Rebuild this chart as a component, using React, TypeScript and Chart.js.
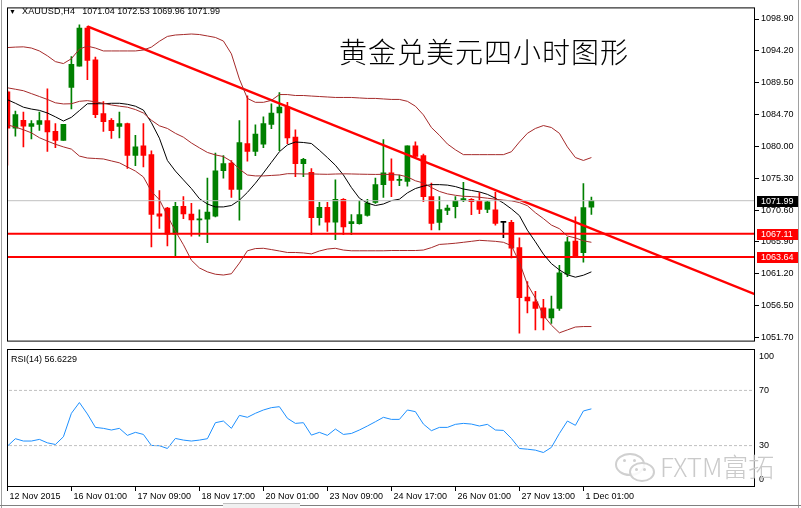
import React, { useEffect, useRef } from "react";
import { Chart, registerables } from "chart.js";

Chart.register(...registerables);

// ---------- text ----------
const symbolName = "XAUUSD,H4";
const symbolQuote = "1071.04 1072.53 1069.96 1071.99";
const chartTitle = "黄金兑美元四小时图形";
const rsiLabel = "RSI(14) 56.6229";
const watermark = "FXTM富拓";

// ---------- candles (H4 bars, index 0..73) ----------
const opens = [1088.1, 1082.73, 1083.88, 1083.0, 1083.3, 1083.84, 1082.26, 1080.92, 1088.76, 1091.91,
  1097.57, 1092.87, 1084.9, 1083.88, 1083.0, 1083.4, 1078.71, 1080.1, 1078.81, 1070.06,
  1070.88, 1067.05, 1071.17, 1070.02, 1069.16, 1069.24, 1069.68, 1076.42, 1077.57, 1073.65,
  1080.44, 1079.3, 1080.35, 1083.3, 1084.98, 1085.84, 1081.4, 1077.48, 1076.19, 1069.49,
  1071.02, 1068.81, 1072.21, 1068.6, 1068.6, 1069.82, 1071.74, 1074.37, 1076.13, 1075.0,
  1074.84, 1080.1, 1078.67, 1072.6, 1068.77, 1070.54, 1071.11, 1072.03, 1072.21, 1071.93,
  1070.68, 1070.64, 1068.77, 1068.77, 1065.04, 1057.72, 1057.0, 1056.14, 1054.61, 1056.04,
  1061.12, 1066.0, 1064.3, 1071.04];
const highs = [1088.3, 1085.27, 1085.13, 1083.84, 1085.13, 1088.57, 1083.4, 1083.3, 1093.35, 1098.04,
  1097.8, 1093.26, 1086.66, 1084.17, 1085.13, 1083.5, 1081.68, 1083.4, 1079.39, 1073.5,
  1071.0, 1071.74, 1072.6, 1071.6, 1070.64, 1075.33, 1079.06, 1078.67, 1077.95, 1083.84,
  1087.52, 1083.22, 1084.41, 1086.32, 1088.0, 1086.56, 1082.5, 1078.28, 1076.76, 1071.74,
  1071.74, 1075.08, 1072.3, 1069.92, 1071.97, 1072.21, 1075.33, 1081.06, 1078.2, 1075.8,
  1080.1, 1080.72, 1078.91, 1074.61, 1072.6, 1071.35, 1072.6, 1074.7, 1072.3, 1073.18,
  1071.9, 1073.26, 1068.87, 1069.1, 1066.5, 1060.0, 1058.58, 1057.39, 1057.87, 1062.41,
  1066.58, 1069.59, 1074.51, 1072.53];
const lows = [1077.24, 1081.54, 1079.96, 1081.15, 1082.4, 1079.3, 1079.86, 1080.92, 1085.6, 1091.91,
  1089.9, 1084.27, 1082.26, 1081.2, 1081.3, 1076.76, 1077.19, 1076.99, 1065.14, 1067.9,
  1065.28, 1063.6, 1069.34, 1066.72, 1066.72, 1065.76, 1069.6, 1075.33, 1072.46, 1069.1,
  1077.85, 1078.67, 1079.86, 1082.64, 1079.39, 1080.44, 1075.56, 1075.56, 1066.95, 1068.38,
  1067.44, 1066.23, 1066.95, 1066.95, 1068.5, 1069.7, 1071.6, 1072.46, 1072.6, 1074.2,
  1074.13, 1078.4, 1071.83, 1067.67, 1067.67, 1069.92, 1069.44, 1071.83, 1069.92, 1070.06,
  1070.2, 1068.38, 1066.5, 1063.5, 1052.37, 1055.38, 1052.84, 1052.84, 1053.8, 1055.72,
  1060.74, 1063.6, 1062.89, 1069.96];
const closes = [1082.73, 1084.74, 1083.02, 1083.4, 1083.84, 1082.16, 1080.92, 1083.3, 1092.2, 1097.57,
  1092.77, 1084.74, 1083.69, 1082.35, 1083.4, 1078.71, 1079.96, 1078.71, 1069.96, 1069.68,
  1067.05, 1071.17, 1070.02, 1069.16, 1069.3, 1070.3, 1076.42, 1077.48, 1073.65, 1080.58,
  1079.3, 1081.87, 1083.4, 1084.98, 1085.84, 1081.3, 1077.48, 1078.1, 1069.49, 1071.02,
  1068.81, 1072.21, 1068.1, 1068.9, 1069.92, 1071.64, 1074.37, 1076.13, 1074.98, 1075.1,
  1080.1, 1078.53, 1072.6, 1068.63, 1070.68, 1070.88, 1071.97, 1072.31, 1071.83, 1070.68,
  1071.83, 1068.63, 1068.77, 1064.94, 1057.62, 1057.15, 1056.04, 1054.61, 1055.96, 1061.31,
  1065.9, 1063.71, 1070.97, 1071.99];

// ---------- indicators ----------
const bbUpper = [1094.67, 1094.74, 1094.78, 1094.6, 1094.17, 1093.45, 1092.59, 1092.3, 1093.02, 1094.45,
  1094.88, 1094.6, 1094.17, 1094.17, 1094.17, 1094.17, 1094.17, 1094.31, 1094.74, 1095.6,
  1096.32, 1096.53, 1096.6, 1096.68, 1096.6, 1096.39, 1096.17, 1095.64, 1093.74, 1090.0,
  1087.14, 1086.56, 1086.56, 1086.85, 1087.71, 1087.71, 1087.57, 1087.57, 1087.49, 1087.42,
  1087.35, 1087.28, 1087.28, 1087.28, 1087.21, 1087.14, 1087.14, 1087.06, 1086.99, 1086.99,
  1086.71, 1085.99, 1084.7, 1082.83, 1081.68, 1080.39, 1079.53, 1078.81, 1078.81, 1078.81,
  1078.81, 1078.81, 1078.81, 1079.24, 1080.68, 1081.97, 1082.69, 1083.12, 1082.83, 1081.97,
  1079.96, 1078.38, 1077.95, 1078.38];
const bbMiddle = [1088.71, 1088.5, 1088.28, 1087.85, 1087.42, 1086.99, 1086.49, 1086.32, 1086.35, 1086.71,
  1086.81, 1086.63, 1086.42, 1086.17, 1085.99, 1085.84, 1085.49, 1084.98, 1083.91, 1083.08,
  1082.69, 1081.97, 1081.4, 1080.54, 1079.82, 1079.14, 1078.77, 1078.53, 1077.81, 1076.66,
  1075.8, 1075.66, 1075.66, 1075.73, 1075.8, 1075.99, 1075.99, 1075.94, 1075.96, 1075.92,
  1075.9, 1075.94, 1075.97, 1075.95, 1075.92, 1075.9, 1075.88, 1075.9, 1075.87, 1075.8,
  1075.51, 1074.94, 1074.61, 1073.94, 1073.36, 1073.0, 1072.79, 1072.64, 1072.6, 1072.5,
  1072.36, 1072.21, 1072.07, 1071.97, 1071.71, 1071.25, 1070.21, 1069.34, 1068.38, 1067.84,
  1066.76, 1066.48, 1066.05, 1065.83];
const bbLower = [1083.22, 1082.9, 1082.5, 1082.04, 1081.32, 1080.82, 1080.35, 1079.96, 1079.63, 1078.6,
  1078.31, 1078.24, 1078.17, 1077.88, 1077.6, 1076.99, 1076.38, 1075.51, 1073.36, 1072.14,
  1069.78, 1067.48, 1065.47, 1063.18, 1062.03, 1061.45, 1061.1, 1060.98, 1061.17, 1062.75,
  1064.57, 1064.9, 1064.94, 1064.75, 1064.54, 1064.32, 1064.32, 1064.25, 1064.11, 1064.54,
  1064.83, 1064.94, 1064.68, 1064.57, 1064.57, 1064.57, 1064.57, 1064.57, 1064.61, 1064.61,
  1064.61, 1064.61, 1064.68, 1065.04, 1065.51, 1065.59, 1065.69, 1065.83, 1065.97, 1066.12,
  1066.05, 1065.97, 1065.83, 1065.33, 1062.89, 1059.59, 1057.58, 1055.0, 1053.56, 1052.42,
  1052.85, 1053.28, 1053.35, 1053.35];
const maLine = [1086.95, 1086.42, 1085.84, 1085.56, 1085.37, 1084.98, 1084.41, 1083.79, 1084.34, 1085.34,
  1086.35, 1086.35, 1086.35, 1086.42, 1086.42, 1086.27, 1085.99, 1085.41, 1083.55, 1081.25,
  1077.95, 1076.38, 1075.08, 1073.79, 1072.29, 1071.5, 1071.07, 1071.07, 1071.28, 1072.07,
  1073.22, 1074.58, 1076.09, 1077.67, 1079.24, 1080.25, 1080.68, 1080.61, 1080.46, 1079.46,
  1078.38, 1077.24, 1075.8, 1073.94, 1072.36, 1071.64, 1071.28, 1071.5, 1072.0, 1072.21,
  1073.15, 1073.79, 1074.15, 1074.37, 1074.37, 1074.3, 1074.08, 1073.72, 1073.51, 1073.29,
  1072.93, 1072.36, 1071.64, 1070.78, 1069.78, 1067.62, 1065.9, 1064.08, 1062.67, 1061.74,
  1061.02, 1060.66, 1060.95, 1061.45];
const rsiValues = [29.6, 35.0, 33.3, 33.3, 34.5, 32.0, 30.8, 36.4, 53.4, 61.2,
  52.9, 43.2, 42.5, 41.3, 42.5, 37.4, 39.6, 38.1, 30.1, 29.9,
  27.9, 35.2, 34.0, 33.3, 34.0, 35.0, 46.6, 47.8, 42.5, 51.9,
  50.5, 53.4, 55.8, 57.5, 58.2, 49.8, 46.1, 46.6, 37.6, 39.6,
  37.4, 42.0, 38.1, 38.8, 41.3, 44.2, 47.3, 50.5, 49.0, 49.0,
  55.8, 54.6, 45.6, 40.8, 43.2, 43.2, 45.4, 46.1, 45.6, 44.2,
  45.4, 41.3, 41.0, 35.2, 27.9, 27.4, 26.7, 25.0, 28.7, 38.8,
  47.8, 44.7, 55.1, 56.62];

// ---------- axes / levels ----------
const xTickIndex = [0, 8, 16, 24, 32, 40, 48, 56, 64, 72];
const xTickLabels = ["12 Nov 2015", "16 Nov 01:00", "17 Nov 09:00", "18 Nov 17:00", "20 Nov 01:00",
  "23 Nov 09:00", "24 Nov 17:00", "26 Nov 01:00", "27 Nov 13:00", "1 Dec 01:00"];
const priceTicks = [1098.9, 1094.2, 1089.5, 1084.7, 1080.0, 1075.3, 1070.6, 1065.9, 1061.2, 1056.5, 1051.7];
const supportLevels = [1067.11, 1063.64];
const lastPrice = 1071.99;
const trendIndex = [10, 93.5];
const trendPrice = [1097.8, 1058.1];
const rsiLevels = [70, 30];
const rsiTicks = [100, 70, 30, 0];

const X_MIN = -0.05;
const X_MAX = 93.45;
const Y_MIN = 1051.12;
const Y_MAX = 1100.62;

const AXIS_FONT = { family: "'Liberation Sans', Arial, sans-serif", size: 9 };
const BAND = "#a52a2a";

const framePlugin = {
  id: "frame",
  afterDraw(chart: any) {
    const { ctx, chartArea } = chart;
    ctx.save();
    ctx.strokeStyle = "#000";
    ctx.lineWidth = 1;
    ctx.strokeRect(chartArea.left + 0.5, chartArea.top + 0.5, chartArea.right - chartArea.left - 1, chartArea.bottom - chartArea.top - 1);
    ctx.restore();
  },
};

const priceTagPlugin = {
  id: "priceTags",
  afterDraw(chart: any) {
    const { ctx, chartArea, scales } = chart;
    const tags: [number, string][] = [[lastPrice, "#000"], ...supportLevels.map((v) => [v, "#ff0000"] as [number, string])];
    ctx.save();
    ctx.font = "9px 'Liberation Sans', Arial, sans-serif";
    ctx.textAlign = "left";
    ctx.textBaseline = "middle";
    tags.forEach(([v, bg]) => {
      const py = Math.round(scales.y.getPixelForValue(v));
      ctx.fillStyle = bg;
      ctx.fillRect(chartArea.right + 2, py - 5, 42, 11);
      ctx.fillStyle = "#fff";
      ctx.fillText(v.toFixed(2), chartArea.right + 6, py + 0.5);
    });
    ctx.restore();
  },
};

const rsiAxisPlugin = {
  id: "rsiAxis",
  afterDraw(chart: any) {
    const { ctx, chartArea, scales } = chart;
    ctx.save();
    ctx.font = "9px 'Liberation Sans', Arial, sans-serif";
    ctx.fillStyle = "#000";
    ctx.textAlign = "left";
    ctx.textBaseline = "middle";
    rsiTicks.forEach((v) => {
      let py = scales.y.getPixelForValue(v);
      if (py < chartArea.top + 7) py = chartArea.top + 8;
      if (py > chartArea.bottom - 7) py = chartArea.bottom - 7;
      ctx.fillText(String(v), chartArea.right + 4, py);
    });
    ctx.restore();
  },
};

function lineDs(data: { x: number; y: number }[], color: string, width = 1, dash: number[] = []) {
  return {
    type: "line" as const,
    data,
    borderColor: color,
    borderWidth: width,
    borderDash: dash,
    pointRadius: 0,
    tension: 0,
    fill: false,
    clip: 0,
    order: 0,
  };
}

export default function App() {
  const mainRef = useRef<HTMLCanvasElement>(null);
  const rsiRef = useRef<HTMLCanvasElement>(null);

  useEffect(() => {
    const color = (i: number) =>
      closes[i] > opens[i] ? "#008000" : closes[i] < opens[i] ? "#ff0000" : "#000000";
    const colors = closes.map((_, i) => color(i));
    const series = (arr: number[]) => arr.map((y, i) => ({ x: i, y }));
    const hline = (v: number) => [{ x: X_MIN - 1, y: v }, { x: X_MAX + 1, y: v }];

    const main = new Chart(mainRef.current as HTMLCanvasElement, {
      type: "bar",
      data: {
        datasets: [
          lineDs(hline(lastPrice), "#c0c0c0", 1) as any,
          lineDs(series(bbUpper), BAND) as any,
          lineDs(series(bbMiddle), BAND) as any,
          lineDs(series(bbLower), BAND) as any,
          lineDs(series(maLine), "#000") as any,
          ...supportLevels.map((v) => lineDs(hline(v), "#ff0000", 2) as any),
          lineDs(trendIndex.map((x, k) => ({ x, y: trendPrice[k] })), "#ff0000", 2.4) as any,
          {
            type: "bar",
            data: opens.map((o, i) => ({ x: i, y: [o, closes[i]] })),
            backgroundColor: colors,
            borderWidth: 0,
            barThickness: 5,
            minBarLength: 1,
            grouped: false,
            clip: 0,
            order: 1,
          } as any,
          {
            type: "bar",
            data: lows.map((l, i) => ({ x: i, y: [l, highs[i]] })),
            backgroundColor: colors,
            borderWidth: 0,
            barThickness: 1,
            grouped: false,
            clip: 0,
            order: 2,
          } as any,
        ],
      },
      options: {
        animation: false,
        responsive: true,
        maintainAspectRatio: false,
        events: [],
        layout: { padding: { left: 7, top: 2, right: 0, bottom: 2 } },
        plugins: { legend: { display: false }, tooltip: { enabled: false } },
        scales: {
          x: { type: "linear", min: X_MIN, max: X_MAX, display: false, offset: false, grid: { offset: false } },
          y: {
            type: "linear",
            position: "right",
            min: Y_MIN,
            max: Y_MAX,
            afterFit: (s: any) => { s.width = 46; },
            afterBuildTicks: (s: any) => { s.ticks = priceTicks.map((v) => ({ value: v })); },
            ticks: {
              autoSkip: false,
              padding: 2,
              color: "#000",
              font: AXIS_FONT,
              callback: (v: any) => Number(v).toFixed(2),
            },
            grid: { drawOnChartArea: false, drawTicks: true, tickLength: 4, color: "#000" },
            border: { display: false },
          },
        },
      },
      plugins: [framePlugin, priceTagPlugin],
    });

    const rsi = new Chart(rsiRef.current as HTMLCanvasElement, {
      type: "line",
      data: {
        datasets: [
          ...rsiLevels.map((v) => lineDs(hline(v), "#c0c0c0", 1, [3, 2]) as any),
          lineDs(series(rsiValues), "#1e90ff", 1) as any,
        ],
      },
      options: {
        animation: false,
        responsive: true,
        maintainAspectRatio: false,
        events: [],
        layout: { padding: { left: 7, top: 1, right: 46, bottom: 0 } },
        plugins: { legend: { display: false }, tooltip: { enabled: false } },
        scales: {
          x: {
            type: "linear",
            min: X_MIN,
            max: X_MAX,
            position: "bottom",
            afterFit: (s: any) => { s.height = 21; },
            afterBuildTicks: (s: any) => { s.ticks = xTickIndex.map((v) => ({ value: v })); },
            ticks: {
              autoSkip: false,
              maxRotation: 0,
              align: "start",
              labelOffset: 2,
              padding: 0,
              color: "#000",
              font: AXIS_FONT,
              callback: (_v: any, i: number) => xTickLabels[i],
            },
            grid: { drawOnChartArea: false, drawTicks: true, tickLength: 4, color: "#000" },
            border: { display: false },
          },
          y: { type: "linear", min: 0, max: 100, display: false },
        },
      },
      plugins: [framePlugin, rsiAxisPlugin],
    });

    return () => {
      main.destroy();
      rsi.destroy();
    };
  }, []);

  const abs = (o: React.CSSProperties): React.CSSProperties => ({ position: "absolute", ...o });

  return (
    <div style={abs({ left: 0, top: 0, width: 801, height: 508, background: "#fff", overflow: "hidden" })}>
      <div style={abs({ left: 0, top: 0, width: 801, height: 349 })}>
        <canvas ref={mainRef} />
      </div>
      <div style={abs({ left: 0, top: 348, width: 801, height: 160 })}>
        <canvas ref={rsiRef} />
      </div>
      {/* window frame lines */}
      <div style={abs({ left: 1, top: 0, width: 1, height: 508, background: "#a0a0a0" })} />
      <div style={abs({ left: 798, top: 0, width: 1, height: 508, background: "#a0a0a0" })} />
      <div style={abs({ left: 0, top: 505, width: 801, height: 1, background: "#808080" })} />
      <div style={abs({ left: 223, top: 503, width: 77, height: 5, background: "#f0f0f0", borderTop: "1px solid #c0c0c0" })} />
      {/* header */}
      <div style={abs({ left: 9, top: 5, font: "9px 'Liberation Sans', Arial, sans-serif", lineHeight: "12px", whiteSpace: "pre", color: "#000" })}>
        <span style={{ fontSize: 7, marginRight: 6 }}>▼</span>
        <span style={{ letterSpacing: 0.2 }}>{symbolName}</span>
        <span style={{ marginLeft: 7 }}>{symbolQuote}</span>
      </div>
      {/* title */}
      <div style={abs({ left: 339, top: 33, fontFamily: "'Noto Sans CJK SC', sans-serif", fontWeight: 300, fontSize: 28, lineHeight: "36px", letterSpacing: 1, color: "#000", whiteSpace: "nowrap" })}>
        {chartTitle}
      </div>
      {/* RSI label */}
      <div style={abs({ left: 11, top: 353, font: "9px 'Liberation Sans', Arial, sans-serif", lineHeight: "12px", whiteSpace: "pre", color: "#000" })}>
        {rsiLabel}
      </div>
      {/* watermark */}
      <div style={abs({ left: 615, top: 453, width: 26, height: 19, border: "2px solid #d0d0d0", borderRadius: "50%" })} />
      <div style={abs({ left: 629, top: 462, width: 22, height: 16, border: "2px solid #d0d0d0", borderRadius: "50%", background: "rgba(255,255,255,0.85)" })} />
      <div style={abs({ left: 623, top: 459, width: 3, height: 3, background: "#d0d0d0", borderRadius: "50%" })} />
      <div style={abs({ left: 633, top: 459, width: 3, height: 3, background: "#d0d0d0", borderRadius: "50%" })} />
      <div style={abs({ left: 635, top: 468, width: 3, height: 3, background: "#d0d0d0", borderRadius: "50%" })} />
      <div style={abs({ left: 643, top: 468, width: 3, height: 3, background: "#d0d0d0", borderRadius: "50%" })} />
      <div style={abs({ left: 660, top: 449, fontFamily: "'Noto Sans CJK SC', sans-serif", fontWeight: 300, fontSize: 26, lineHeight: "34px", color: "#cacaca", whiteSpace: "nowrap" })}>
        {watermark}
      </div>
    </div>
  );
}
